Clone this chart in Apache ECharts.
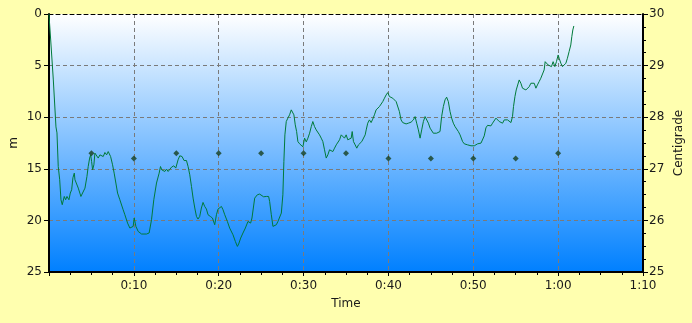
<!DOCTYPE html>
<html>
<head>
<meta charset="utf-8">
<script src="https://cdn.jsdelivr.net/npm/echarts@6/dist/echarts.min.js"></script>
<style>
html,body{margin:0;padding:0;background:#FFFFAF;}
#c{width:692px;height:323px;}
</style>
</head>
<body>
<div id="c"></div>
<script>
// Depth profile: [elapsed minutes, depth in metres]
const depthSamples = [[0,0],[0.04,0.58],[0.2,2.52],[0.51,6.39],[0.82,10.94],[0.94,11.52],[1.09,14.78],[1.26,16.06],[1.41,18.0],[1.56,18.48],[1.8,17.68],[1.96,18.0],[2.12,17.68],[2.35,18.0],[2.51,17.35],[2.67,17.03],[2.82,15.87],[2.98,15.42],[3.06,16.06],[3.26,16.06],[3.45,16.87],[3.76,17.68],[3.92,17.52],[4.24,16.87],[4.47,15.75],[4.62,14.78],[4.79,13.96],[4.91,13.65],[5.02,14.29],[5.14,15.1],[5.29,14.61],[5.41,13.48],[5.61,13.65],[5.8,13.96],[6.0,13.65],[6.2,13.48],[6.39,13.81],[6.59,13.42],[6.79,13.65],[6.98,13.33],[7.09,13.16],[7.26,13.81],[7.49,14.61],[7.68,15.42],[7.88,16.38],[8.08,17.35],[8.35,18.0],[8.55,18.16],[8.74,18.97],[8.94,19.45],[9.26,20.26],[9.53,20.74],[9.73,20.9],[9.92,20.58],[10.04,19.77],[10.24,20.58],[10.51,21.07],[10.91,21.32],[11.49,21.32],[11.8,21.22],[12.08,19.94],[12.35,18.0],[12.67,16.38],[12.98,15.42],[13.14,14.78],[13.29,15.1],[13.45,14.93],[13.65,15.26],[13.85,15.03],[14.04,15.26],[14.24,15.1],[14.44,14.84],[14.71,14.71],[14.94,14.93],[15.21,14.13],[15.41,13.74],[15.68,13.81],[15.92,14.2],[16.2,14.2],[16.39,14.78],[16.59,15.58],[16.79,16.71],[16.98,17.84],[17.18,18.8],[17.38,19.62],[17.56,19.87],[17.76,19.62],[17.96,18.8],[18.15,18.26],[18.35,18.65],[18.55,18.9],[18.74,19.45],[19.02,19.62],[19.26,19.77],[19.53,20.42],[19.73,19.45],[19.92,18.9],[20.32,18.65],[20.51,18.97],[20.71,19.45],[21.02,20.1],[21.29,20.74],[21.68,21.39],[21.96,22.04],[22.2,22.52],[22.35,22.29],[22.59,21.71],[22.86,21.22],[23.14,20.74],[23.45,20.1],[23.76,20.26],[23.92,19.77],[24.08,18.8],[24.24,17.84],[24.55,17.52],[24.82,17.45],[25.02,17.52],[25.29,17.71],[25.61,17.68],[25.88,17.68],[26.0,18.16],[26.2,19.45],[26.39,20.58],[26.59,20.74],[26.79,20.42],[26.98,20.1],[27.18,19.94],[27.38,19.29],[27.56,17.52],[27.68,14.29],[27.8,11.71],[27.96,10.42],[28.15,10.09],[28.35,9.77],[28.55,9.29],[28.71,9.13],[28.86,9.77],[29.02,10.74],[29.18,11.39],[29.33,12.36],[29.53,12.58],[29.73,12.39],[29.92,12.87],[30.12,12.03],[30.32,12.39],[30.51,12.03],[30.71,11.55],[30.91,10.91],[31.09,10.42],[31.29,10.91],[31.49,11.23],[31.68,11.06],[31.88,11.71],[32.08,12.03],[32.27,12.36],[32.47,13.16],[32.67,13.96],[32.86,13.65],[33.06,13.16],[33.26,13.0],[33.45,13.33],[33.65,13.0],[33.85,12.68],[34.04,12.51],[34.24,12.19],[34.44,11.71],[34.62,11.55],[34.82,12.03],[35.02,11.71],[35.21,12.19],[35.41,12.03],[35.61,12.03],[35.73,11.39],[35.88,12.36],[36.08,12.68],[36.27,13.0],[36.47,12.68],[36.67,12.84],[36.86,12.36],[37.06,12.19],[37.26,11.71],[37.38,11.23],[37.56,10.58],[37.76,10.26],[37.96,10.52],[38.15,10.19],[38.35,9.77],[38.55,9.29],[38.74,9.45],[38.94,8.97],[39.14,8.81],[39.33,8.49],[39.53,8.16],[39.73,7.84],[39.92,7.62],[40.12,8.0],[40.32,7.84],[40.51,8.16],[40.71,8.32],[40.91,8.49],[41.09,8.64],[41.29,9.45],[41.49,10.26],[41.68,10.52],[41.88,10.52],[42.08,10.65],[42.35,10.58],[42.67,10.48],[42.94,10.26],[43.14,9.94],[43.33,10.58],[43.53,11.23],[43.73,12.03],[43.92,11.23],[44.12,10.42],[44.32,9.94],[44.51,10.09],[44.71,10.58],[44.91,11.06],[45.09,11.23],[45.29,11.55],[45.49,11.71],[45.68,11.55],[45.88,11.71],[46.08,11.39],[46.27,9.94],[46.47,8.97],[46.67,8.32],[46.86,8.06],[47.06,8.49],[47.26,9.45],[47.45,10.09],[47.65,10.58],[47.85,10.91],[48.04,11.06],[48.24,11.39],[48.44,11.71],[48.74,12.36],[48.94,12.58],[49.14,12.51],[49.33,12.68],[49.53,12.68],[49.73,12.77],[49.92,12.84],[50.12,12.77],[50.32,12.68],[50.51,12.58],[50.71,12.68],[50.91,12.51],[51.09,12.36],[51.29,11.81],[51.49,11.03],[51.68,10.79],[51.88,10.74],[52.08,10.84],[52.27,10.58],[52.47,10.74],[52.67,10.09],[52.86,10.26],[53.06,10.42],[53.26,10.26],[53.45,10.58],[53.65,10.26],[53.85,10.42],[54.04,10.26],[54.24,10.42],[54.44,10.52],[54.62,9.94],[54.74,8.97],[54.91,8.0],[55.06,7.36],[55.21,7.19],[55.41,6.39],[55.61,6.71],[55.8,7.19],[56.0,7.04],[56.2,7.36],[56.39,7.19],[56.59,7.04],[56.79,6.71],[56.98,6.87],[57.18,6.71],[57.38,7.19],[57.56,6.87],[57.76,6.55],[57.96,6.22],[58.15,6.07],[58.35,5.42],[58.47,4.62],[58.67,4.45],[58.82,4.94],[59.02,4.77],[59.21,5.1],[59.41,4.62],[59.61,5.1],[59.8,4.62],[60.0,3.97],[60.12,4.29],[60.32,4.77],[60.51,5.1],[60.71,5.26],[60.91,4.77],[61.09,4.29],[61.29,3.65],[61.49,3.0],[61.61,2.2],[61.73,1.55],[61.85,1.16]];

// Water temperature samples
const tempMinutes = [5,10,15,20,25,30,35,40,45,50,55,60];
const tempValues  = [27.3,27.2,27.3,27.3,27.3,27.3,27.3,27.2,27.2,27.2,27.2,27.3];

// Axis ranges
const timeRange = {min:0, max:70, step:10};
const depthRange = {min:0, max:25, step:5};
const tempRange = {min:25, max:30, step:1};

const FONT = 'DejaVu Sans';
const TXT = '#1a1a1a';

function fmtTime(v){
  if (v === 0) return '';
  const h = Math.floor(v/60), m = Math.round(v%60);
  return h + ':' + (m<10?'0':'') + m;
}

const chart = echarts.init(document.getElementById('c'), null, {renderer:'canvas'});
const dash = [4,3];
chart.setOption({
  animation:false,
  backgroundColor:'#FFFFAF',
  grid:{
    left:49, right:49, top:14, bottom:51, show:true, borderWidth:0,
    containLabel:false, outerBoundsMode:'none',
    backgroundColor:{type:'linear', x:0, y:0, x2:0, y2:1,
      colorStops:[{offset:0,color:'#FFFFFF'},{offset:1,color:'#0080FF'}]}
  },
  xAxis:[{
    type:'value', position:'bottom', min:timeRange.min, max:timeRange.max, interval:timeRange.step,
    name:'Time', nameLocation:'middle', nameGap:26,
    nameTextStyle:{fontFamily:FONT, fontSize:12, color:TXT},
    axisLine:{show:true, onZero:false, lineStyle:{color:'#000', width:2}},
    axisTick:{show:true, length:4, lineStyle:{color:'#000'}},
    minorTick:{show:true, splitNumber:4, length:3, lineStyle:{color:'#000'}},
    axisLabel:{formatter:fmtTime, showMinLabel:false, margin:8, fontFamily:FONT, fontSize:12, color:TXT},
    splitLine:{show:true, lineStyle:{color:'#7a7a7a', type:dash, width:1}}
  },{
    type:'value', position:'top', min:timeRange.min, max:timeRange.max, interval:timeRange.step,
    axisLine:{show:true, onZero:false, lineStyle:{color:'#000', width:1, type:dash}},
    axisTick:{show:false}, axisLabel:{show:false}, splitLine:{show:false}
  }],
  yAxis:[{
    type:'value', position:'left', inverse:true, min:depthRange.min, max:depthRange.max, interval:depthRange.step,
    name:'m', nameLocation:'middle', nameGap:29, nameRotate:90, nameMoveOverlap:false,
    nameTextStyle:{fontFamily:FONT, fontSize:12, color:TXT},
    axisLine:{show:true, onZero:false, lineStyle:{color:'#000', width:2}},
    axisTick:{show:true, length:5, lineStyle:{color:'#000'}},
    axisLabel:{margin:7, fontFamily:FONT, fontSize:12, color:TXT},
    splitLine:{show:true, lineStyle:{color:'#7a7a7a', type:dash, width:1}}
  },{
    type:'value', position:'right', min:tempRange.min, max:tempRange.max, interval:tempRange.step,
    name:'Centigrade', nameLocation:'middle', nameGap:30, nameRotate:90, nameMoveOverlap:false,
    nameTextStyle:{fontFamily:FONT, fontSize:12, color:TXT},
    axisLine:{show:true, onZero:false, lineStyle:{color:'#000', width:2}},
    axisTick:{show:true, length:5, lineStyle:{color:'#000'}},
    minorTick:{show:true, splitNumber:4, length:3, lineStyle:{color:'#000'}},
    axisLabel:{margin:6, fontFamily:FONT, fontSize:12, color:TXT},
    splitLine:{show:false}
  }],
  series:[{
    type:'line', xAxisIndex:0, yAxisIndex:0, data:depthSamples,
    showSymbol:false, symbol:'none', smooth:false,
    lineStyle:{color:'#007A3A', width:1}, z:3
  },{
    type:'scatter', xAxisIndex:0, yAxisIndex:1,
    data:tempMinutes.map((t,i)=>[t,tempValues[i]]),
    symbol:'diamond', symbolSize:6,
    itemStyle:{color:'#17401f'}, z:4
  }]
});
</script>
</body>
</html>
